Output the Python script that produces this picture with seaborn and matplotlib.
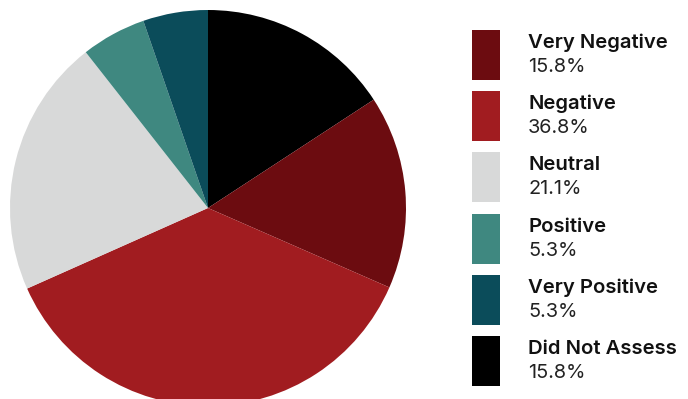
import matplotlib
matplotlib.use("Agg")
import matplotlib.pyplot as plt
import seaborn as sns
from matplotlib.patches import Rectangle

sns.set_theme(style="white")
plt.rcParams['font.family'] = ['Inter', 'DejaVu Sans']

# Data (legend order)
categories = ["Very Negative", "Negative", "Neutral", "Positive", "Very Positive", "Did Not Assess"]
values = [15.8, 36.8, 21.1, 5.3, 5.3, 15.8]
pct_labels = ["15.8%", "36.8%", "21.1%", "5.3%", "5.3%", "15.8%"]
colors = ["#6c0c10", "#a11c20", "#d8d9d9", "#3f8880", "#0b4c5a", "#000000"]

# Pie order: clockwise from 12 o'clock starting with "Did Not Assess"
pie_order = [5, 0, 1, 2, 3, 4]

W, H = 688, 399
fig = plt.figure(figsize=(W / 100, H / 100), dpi=100)
ax = fig.add_axes([0, 0, 1, 1])

ax.pie([values[i] for i in pie_order],
       colors=[colors[i] for i in pie_order],
       startangle=90, counterclock=False,
       center=(208, H - 208), radius=198,
       wedgeprops=dict(linewidth=0), frame=True)
ax.set_xlim(0, W)
ax.set_ylim(0, H)
ax.set_aspect("equal")
ax.axis("off")

# Legend
box_x, box_w, box_h = 472, 28, 50
top0, pitch = 30, 61.2
for k, (cat, pct, col) in enumerate(zip(categories, pct_labels, colors)):
    top = top0 + k * pitch
    ax.add_patch(Rectangle((box_x, H - top - box_h), box_w, box_h,
                           facecolor=col, edgecolor="none"))
    ax.text(528, H - (top + 18), cat, fontsize=14.6, fontweight="semibold",
            color="#111111", va="baseline", ha="left")
    ax.text(528, H - (top + 42), pct, fontsize=14.3, fontweight="normal",
            color="#222222", va="baseline", ha="left")

fig.savefig("out.png", dpi=100, facecolor="white")
